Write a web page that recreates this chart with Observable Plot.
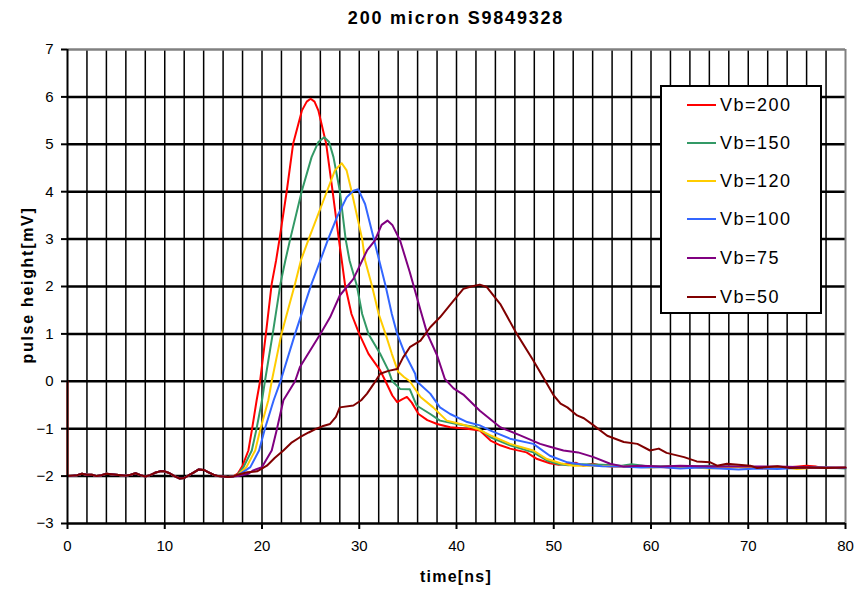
<!DOCTYPE html>
<html><head><meta charset="utf-8">
<script src="https://cdn.jsdelivr.net/npm/d3@7"></script>
<script src="https://cdn.jsdelivr.net/npm/@observablehq/plot@0.6"></script>
<style>
body{margin:0;background:#fff;font-family:"Liberation Sans",Arial,sans-serif;color:#000}
#wrap{position:relative;width:857px;height:589px;overflow:hidden}
#title{height:36px;line-height:36px;text-align:center;font-weight:bold;font-size:18px;letter-spacing:1.8px;padding-left:67px;padding-right:12px;box-sizing:border-box;width:857px}
#legend{position:absolute;left:660px;top:85px;width:162px;height:229px;border:2px solid #000;box-sizing:border-box;background:#fff}
.row{position:absolute;left:25px;height:20px;display:flex;align-items:center;white-space:nowrap}
.sw{width:29px;height:0;border-top:2px solid;margin-right:4px}
.lab{font-size:18px;letter-spacing:1.5px}
#xlab{position:absolute;left:67px;width:778px;top:567px;height:20px;line-height:20px;text-align:center;font-weight:bold;font-size:16px;letter-spacing:1.2px}
#ylab{position:absolute;left:-122px;top:275px;width:300px;height:20px;line-height:20px;text-align:center;font-weight:bold;font-size:16px;letter-spacing:1.7px;transform:rotate(-90deg)}
</style></head>
<body>
<div id="wrap">
<div id="title">200 micron S9849328</div>
<div id="chart"></div>
<div id="xlab">time[ns]</div>
<div id="ylab">pulse height[mV]</div>
<div id="legend"></div>
</div>
<script>
const seriesNames = ["Vb=200","Vb=150","Vb=120","Vb=100","Vb=75","Vb=50"];
const seriesColors = ["#FF0000","#339966","#FFCC00","#3366FF","#800080","#800000"];
const xTicks = [0,10,20,30,40,50,60,70,80];
const yTicks = [-3,-2,-1,0,1,2,3,4,5,6,7];
const xGrid = [2,4,6,8,10,12,14,16,18,20,22,24,26,28,30,32,34,36,38,40,42,44,46,48,50,52,54,56,58,60,62,64,66,68,70,72,74,76,78];
const yGrid = [-2,-1,0,1,2,3,4,5,6];

// pre-trigger baseline shared by all traces (0-17 ns)
const tPre = [0,0.5,1,1.5,2,2.5,3,3.5,4,4.5,5,5.5,6,6.5,7,7.5,8,8.5,9,9.5,10,10.5,11,11.5,12,12.5,13,13.5,14,14.5,15,15.5,16,16.5,17];
const vPre = [-2.0,-1.99,-1.98,-1.95,-1.97,-1.97,-2.0,-1.98,-1.95,-1.96,-1.97,-1.98,-1.99,-1.97,-1.94,-1.98,-2.01,-1.98,-1.93,-1.9,-1.9,-1.94,-2.0,-2.05,-2.04,-1.98,-1.92,-1.86,-1.87,-1.92,-1.97,-2.0,-2.01,-2.02,-2.01];

const t200 = [17.5,18,18.6,18.95,19.45,19.8,20.4,21.0,21.45,21.8,22.55,23.2,24.1,24.6,25.0,25.4,25.8,26.6,27.2,27.9,28.2,28.55,29.2,30.0,30.95,32.15,32.7,33.4,33.9,34.4,34.9,35.4,36.1,37,38,39.35,41.1,42.4,43.5,44.5,45.5,47.2,48.3,49.6,50.5,51.5,52.3,53,54,55,56,58,60,62,64,66,68,70,72,74,76,77,78,80];
const v200 = [-1.95,-1.78,-1.46,-1.04,-0.4,0,1.0,2.06,2.55,3.0,4.02,5.01,5.71,5.9,5.96,5.9,5.71,5.01,4.1,3.0,2.55,2.02,1.42,1.0,0.58,0.23,0.0,-0.3,-0.44,-0.38,-0.33,-0.45,-0.69,-0.82,-0.9,-0.97,-1.0,-1.04,-1.25,-1.35,-1.42,-1.5,-1.64,-1.73,-1.76,-1.74,-1.72,-1.78,-1.74,-1.78,-1.8,-1.8,-1.8,-1.82,-1.8,-1.83,-1.8,-1.82,-1.84,-1.82,-1.78,-1.8,-1.83,-1.83];

const t150 = [17.5,18.1,18.95,19.4,20.0,20.3,21.1,21.9,22.4,22.9,24.1,25.1,25.8,26.4,26.9,27.35,28.0,28.6,29.0,29.75,30.3,30.95,32.15,33.0,33.4,34.2,35.2,35.9,37.3,38.3,40.0,42.1,43.5,45.5,47.9,49.3,50.5,51.5,53,55,57,58,60,62,64,66,68,70,72,74,76,78,80];
const v150 = [-1.97,-1.81,-1.46,-1.04,-0.4,0,1.0,2.06,2.55,3.0,4.02,4.73,5.05,5.15,5.05,4.73,4.02,3.0,2.55,2.02,1.42,1.0,0.58,0.23,0.0,-0.16,-0.17,-0.51,-0.69,-0.83,-0.9,-0.97,-1.18,-1.35,-1.5,-1.67,-1.75,-1.77,-1.75,-1.76,-1.78,-1.75,-1.8,-1.79,-1.8,-1.78,-1.8,-1.82,-1.83,-1.81,-1.82,-1.82,-1.84];

const t120 = [17.5,18.4,19.3,19.8,20.65,21.0,22.0,23.4,24.0,24.8,26.7,27.5,28.2,28.7,29.2,30.3,30.6,31.3,32.0,32.7,33.35,34.0,34.6,35.2,36.3,37.6,39.0,40.4,42.1,43.5,45.5,47.9,49.3,50.7,52,54,56,58,60,62,64,66,68,70,72,74,75,77,80];
const v120 = [-1.98,-1.81,-1.46,-1.04,-0.4,0,1.0,2.06,2.55,3.0,4.02,4.45,4.6,4.45,4.02,3.0,2.55,2.02,1.42,1.0,0.58,0.2,0.09,0,-0.33,-0.55,-0.83,-0.9,-1.0,-1.14,-1.32,-1.46,-1.64,-1.73,-1.78,-1.78,-1.79,-1.8,-1.82,-1.8,-1.81,-1.84,-1.82,-1.81,-1.84,-1.82,-1.85,-1.82,-1.83];

const t100 = [17.5,18.8,19.7,20.3,21.2,21.9,23.4,25.1,26.0,26.8,27.7,28.7,29.4,29.9,30.6,31.5,32.7,33.35,33.9,34.7,35.75,35.9,37.3,38.3,39.35,41.1,42.4,43.5,45.5,47.9,49.6,51.4,53,55,57,59,61,63,65,67,69,71,73,75,77,80];
const v100 = [-1.99,-1.81,-1.46,-1.0,-0.4,0,1.0,2.06,2.55,3.0,3.46,3.88,4.02,4.05,3.74,3.0,2.02,1.42,1.0,0.58,0.16,0.0,-0.26,-0.55,-0.69,-0.86,-0.93,-1.04,-1.21,-1.32,-1.57,-1.71,-1.76,-1.79,-1.8,-1.82,-1.81,-1.84,-1.82,-1.84,-1.86,-1.84,-1.85,-1.83,-1.82,-1.83];

const t75 = [17.5,18.6,19.1,20.0,21.0,21.5,22.2,23.4,23.9,26.0,27.0,28.0,29.4,30.8,31.6,32.3,32.9,33.4,34.2,35.2,36.3,37.0,38.0,38.8,39.7,40.7,42.4,44.5,46.55,48.6,49.6,51.0,52.5,54.1,55.8,57.2,59,61,63,65,67,69,71,73,75,77,80];
const v75 = [-2.0,-1.95,-1.88,-1.81,-1.46,-1.04,-0.4,0,0.3,1.0,1.35,1.81,2.16,2.76,2.97,3.3,3.39,3.3,2.97,2.3,1.5,1.0,0.55,0.05,-0.15,-0.28,-0.62,-0.97,-1.14,-1.32,-1.38,-1.46,-1.5,-1.6,-1.74,-1.8,-1.78,-1.8,-1.78,-1.79,-1.8,-1.8,-1.8,-1.8,-1.81,-1.82,-1.82];

const t50 = [17.5,18.5,19.5,20.5,21.3,22.2,23.0,23.9,24.8,25.6,26.2,27.0,27.6,28.0,29.4,30.2,30.8,31.5,32.15,33.0,33.9,34.5,35.2,36.3,37.3,38.3,39.7,40.7,41.5,42.4,43.1,44.5,46.2,47.9,49.3,50.0,50.7,51.4,52.4,53.1,54.1,55.5,57.2,58.6,59.9,60.8,61.6,63.4,64.7,66.1,66.8,67.8,70.2,70.9,73,74.3,76,78,80];
const v50 = [-1.97,-1.92,-1.9,-1.78,-1.62,-1.46,-1.3,-1.18,-1.08,-1.0,-0.95,-0.9,-0.75,-0.55,-0.51,-0.4,-0.26,-0.05,0.16,0.22,0.26,0.5,0.72,0.86,1.14,1.35,1.7,1.95,2.0,2.04,1.99,1.63,1.0,0.44,-0.05,-0.3,-0.47,-0.55,-0.72,-0.78,-0.93,-1.15,-1.28,-1.32,-1.46,-1.42,-1.51,-1.6,-1.69,-1.71,-1.78,-1.74,-1.78,-1.83,-1.79,-1.83,-1.82,-1.83,-1.82];

// red trace starts with a spike at t=0
const tStart200 = [0];
const vStart200 = [0.0];

const T = [tStart200.concat(tPre, t200), tPre.concat(t150), tPre.concat(t120), tPre.concat(t100), tPre.concat(t75), tPre.concat(t50)];
const V = [vStart200.concat(vPre, v200), vPre.concat(v150), vPre.concat(v120), vPre.concat(v100), vPre.concat(v75), vPre.concat(v50)];

const rows = [];
seriesNames.forEach((s, i) => T[i].forEach((t, j) => rows.push({series: s, t, v: V[i][j]})));

const chart = Plot.plot({
  width: 857, height: 553,
  marginTop: 13, marginLeft: 67, marginRight: 12, marginBottom: 66,
  x: {domain: [0, 80]},
  y: {domain: [-3, 7]},
  color: {domain: seriesNames, range: seriesColors},
  style: {fontFamily: '"Liberation Sans", Arial, sans-serif', fontSize: "15px", color: "#000", background: "#fff"},
  marks: [
    Plot.ruleX(xGrid, {stroke: "#000", strokeWidth: 1.5}),
    Plot.ruleY(yGrid, {stroke: "#000", strokeWidth: 2.5}),
    Plot.ruleY([7], {stroke: "#808080", strokeWidth: 2.5}),
    Plot.ruleX([80], {stroke: "#808080", strokeWidth: 2}),
    Plot.line(rows, {x: "t", y: "v", z: "series", stroke: "series", strokeWidth: 2}),
    Plot.ruleX([0], {stroke: "#000", strokeWidth: 2}),
    Plot.ruleY([-3], {stroke: "#000", strokeWidth: 2.5}),
    Plot.axisX({ticks: xTicks, tickSize: 6, tickPadding: 11, label: null, strokeWidth: 2}),
    Plot.axisY({ticks: yTicks, tickSize: 6, tickPadding: 8, label: null, strokeWidth: 2})
  ]
});
document.getElementById("chart").appendChild(chart);

const leg = document.getElementById("legend");
const centers = [20, 58, 96, 134, 173, 212];
seriesNames.forEach((s, i) => {
  const r = document.createElement("div");
  r.className = "row";
  r.style.top = (centers[i] - 12) + "px";
  r.innerHTML = `<span class="sw" style="border-top-color:${seriesColors[i]}"></span><span class="lab">${s}</span>`;
  leg.appendChild(r);
});
</script>
</body></html>
